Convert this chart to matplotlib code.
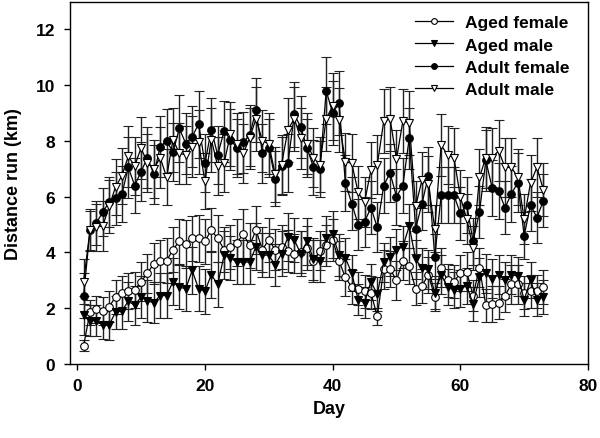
import matplotlib
matplotlib.use("Agg")
import matplotlib.pyplot as plt

plt.rcParams['font.family'] = ['Liberation Sans', 'DejaVu Sans']
plt.rcParams['font.weight'] = 'bold'

days = list(range(1, 74))

aged_female = [
    0.65, 1.85, 1.95, 1.90, 2.05, 2.40, 2.55, 2.60, 2.65, 2.95,
    3.25, 3.60, 3.70, 3.70, 4.10, 4.40, 4.30, 4.50, 4.50, 4.40,
    4.80, 4.50, 4.10, 4.20, 4.35, 4.65, 4.25, 4.80, 4.10, 4.45,
    4.10, 4.20, 4.05, 3.95, 4.00, 4.15, 3.70, 4.05, 4.25, 4.45,
    3.70, 3.10, 2.75, 2.70, 2.60, 2.55, 1.70, 3.40, 3.40, 3.00,
    3.70, 3.50, 2.70, 2.80, 3.20, 2.40, 3.45, 3.00, 2.95, 3.25,
    3.30, 2.45, 3.45, 2.10, 2.15, 2.20, 2.45, 2.85, 2.85, 2.55,
    2.60, 2.60, 2.75]
aged_female_err = [
    0.20, 0.45, 0.50, 0.50, 0.55, 0.60, 0.60, 0.65, 0.65, 0.70,
    0.70, 0.75, 0.75, 0.80, 0.80, 0.80, 0.85, 0.80, 0.85, 0.80,
    0.80, 0.85, 0.80, 0.80, 0.85, 0.90, 0.80, 0.85, 0.80, 0.80,
    0.75, 0.80, 0.75, 0.70, 0.75, 0.80, 0.75, 0.70, 0.75, 0.75,
    0.70, 0.65, 0.60, 0.60, 0.60, 0.60, 0.30, 0.70, 0.65, 0.70,
    0.70, 0.65, 0.60, 0.60, 0.65, 0.50, 0.70, 0.60, 0.60, 0.65,
    0.70, 0.55, 0.70, 0.60, 0.65, 0.60, 0.60, 0.70, 0.70, 0.60,
    0.60, 0.60, 0.60]

aged_male = [
    1.75, 1.55, 1.55, 1.40, 1.40, 1.85, 1.90, 2.25, 2.10, 2.40,
    2.25, 2.20, 2.45, 2.45, 2.95, 2.75, 2.70, 3.35, 2.70, 2.60,
    3.20, 2.85, 3.90, 3.80, 3.65, 3.65, 3.65, 4.20, 3.90, 3.90,
    3.55, 3.95, 4.55, 4.45, 3.95, 4.40, 3.75, 3.70, 4.50, 4.65,
    3.90, 3.80, 3.25, 2.30, 2.20, 2.95, 2.50, 3.65, 3.85, 4.10,
    4.20, 4.95, 3.75, 3.45, 3.40, 2.55, 3.20, 2.75, 2.65, 2.70,
    2.80, 2.15, 3.10, 3.25, 3.05, 3.20, 3.00, 3.20, 3.15, 2.30,
    3.00, 2.30, 2.40]
aged_male_err = [
    0.70, 0.55, 0.55, 0.50, 0.55, 0.60, 0.65, 0.70, 0.70, 0.75,
    0.75, 0.75, 0.80, 0.80, 0.85, 0.80, 0.80, 0.85, 0.80, 0.80,
    0.85, 0.80, 0.85, 0.80, 0.80, 0.80, 0.80, 0.85, 0.80, 0.80,
    0.75, 0.80, 0.85, 0.80, 0.80, 0.85, 0.75, 0.75, 0.80, 0.85,
    0.75, 0.70, 0.65, 0.55, 0.55, 0.65, 0.60, 0.70, 0.70, 0.75,
    0.75, 0.80, 0.70, 0.70, 0.70, 0.60, 0.70, 0.65, 0.65, 0.65,
    0.65, 0.60, 0.70, 0.70, 0.70, 0.70, 0.65, 0.70, 0.70, 0.60,
    0.65, 0.60, 0.60]

adult_female = [
    2.45, 4.80, 5.05, 5.45, 5.80, 5.95, 6.10, 7.05, 6.40, 6.90,
    7.40, 6.80, 7.80, 8.00, 7.60, 8.45, 7.90, 8.15, 8.60, 7.20,
    8.40, 7.50, 8.35, 8.05, 7.75, 7.95, 8.20, 9.10, 7.55, 7.75,
    6.65, 7.10, 7.20, 8.95, 8.50, 7.75, 7.05, 7.00, 9.80, 9.00,
    9.35, 6.50, 5.75, 5.00, 5.10, 5.60, 4.90, 6.40, 6.85, 6.00,
    6.40, 8.10, 4.85, 5.75, 6.75, 3.85, 6.05, 6.05, 6.05, 5.40,
    5.70, 4.40, 5.45, 7.30, 6.30, 6.20, 5.60, 6.10, 6.50, 4.60,
    5.70, 5.25, 5.85]
adult_female_err = [
    0.80, 0.70, 0.80, 0.85, 0.90, 0.95, 1.00, 1.10, 1.00, 1.05,
    1.10, 1.05, 1.10, 1.15, 1.05, 1.20, 1.10, 1.10, 1.20, 1.05,
    1.15, 1.05, 1.10, 1.10, 1.05, 1.10, 1.10, 1.15, 1.05, 1.05,
    1.00, 1.05, 1.05, 1.15, 1.10, 1.05, 1.00, 1.00, 1.20, 1.15,
    1.15, 1.00, 0.95, 0.90, 0.90, 0.95, 0.90, 1.00, 1.05, 1.00,
    1.00, 1.10, 0.90, 0.95, 1.05, 0.80, 1.00, 1.00, 1.00, 0.95,
    1.00, 0.85, 0.95, 1.10, 1.00, 1.00, 0.95, 1.00, 1.05, 0.85,
    0.95, 0.90, 0.95]

adult_male = [
    2.95, 4.80, 4.90, 4.95, 5.65, 6.35, 6.75, 7.45, 7.10, 7.75,
    7.20, 7.00, 7.40, 6.70, 8.05, 7.55, 7.50, 7.80, 7.95, 6.55,
    8.05, 7.10, 7.20, 8.25, 7.90, 7.55, 8.10, 8.80, 8.00, 7.90,
    6.80, 7.15, 8.40, 8.80, 8.10, 7.90, 7.40, 7.15, 8.80, 9.25,
    8.75, 7.25, 7.20, 6.15, 5.80, 6.95, 7.15, 8.70, 8.80, 7.35,
    8.70, 8.65, 5.65, 6.60, 6.45, 4.85, 7.85, 7.50, 7.40, 6.00,
    5.20, 4.15, 6.70, 7.40, 7.40, 7.65, 7.05, 7.05, 6.70, 5.20,
    6.50, 7.05, 6.25]
adult_male_err = [
    0.80, 0.75, 0.85, 0.90, 0.95, 1.00, 1.00, 1.10, 1.05, 1.10,
    1.05, 1.05, 1.10, 1.00, 1.15, 1.10, 1.05, 1.10, 1.15, 1.00,
    1.15, 1.05, 1.05, 1.15, 1.10, 1.05, 1.10, 1.15, 1.10, 1.10,
    1.00, 1.05, 1.15, 1.15, 1.10, 1.10, 1.05, 1.00, 1.15, 1.20,
    1.15, 1.05, 1.05, 0.95, 0.90, 1.00, 1.05, 1.15, 1.15, 1.05,
    1.15, 1.15, 0.90, 1.00, 1.00, 0.85, 1.10, 1.05, 1.05, 0.95,
    0.90, 0.80, 1.00, 1.10, 1.05, 1.10, 1.05, 1.05, 1.00, 0.90,
    1.00, 1.05, 0.95]

labels = ["Aged female", "Aged male", "Adult female", "Adult male"]
series = [aged_female, aged_male, adult_female, adult_male]
errors = [aged_female_err, aged_male_err, adult_female_err, adult_male_err]
markers = ["o", "v", "o", "v"]
faces = ["white", "black", "black", "white"]

fig = plt.figure(figsize=(6, 4.39), dpi=100)
ax = fig.add_axes([0.117, 0.169, 0.863, 0.825])

handles = []
for vals, err, m, fc, lab in zip(series, errors, markers, faces, labels):
    h = ax.errorbar(days, vals, yerr=err, color="black", ecolor="#222222",
                    elinewidth=1.0, capsize=3.5, capthick=1.0,
                    marker=m, markersize=5.5, markerfacecolor=fc,
                    markeredgecolor="black", markeredgewidth=0.8,
                    linewidth=0.9, label=lab)
    handles.append(h)

ax.set_xlim(-1.1, 80)
ax.set_ylim(0, 13)
ax.set_xticks([0, 20, 40, 60, 80])
ax.set_yticks([0, 2, 4, 6, 8, 10, 12])
ax.tick_params(direction="out", length=4, width=1, labelsize=12.5)
ax.tick_params(axis="y", pad=7)
ax.tick_params(axis="x", pad=6)
for t in ax.get_xticklabels() + ax.get_yticklabels():
    t.set_fontweight("bold")
for s in ax.spines.values():
    s.set_linewidth(1.0)

ax.set_xlabel("Day", fontsize=13, fontweight="bold", labelpad=5)
ax.set_ylabel("Distance run (km)", fontsize=13, fontweight="bold", labelpad=10)

leg = ax.legend(handles=[h[0] for h in handles], labels=labels,
                loc="upper right", bbox_to_anchor=(0.985, 0.992), frameon=False,
                prop={"weight": "bold", "size": 12.5}, handlelength=2.2,
                handletextpad=0.7, markerscale=0.75,
                labelspacing=0.42, borderaxespad=0.2)

fig.savefig("out.png", dpi=100)
